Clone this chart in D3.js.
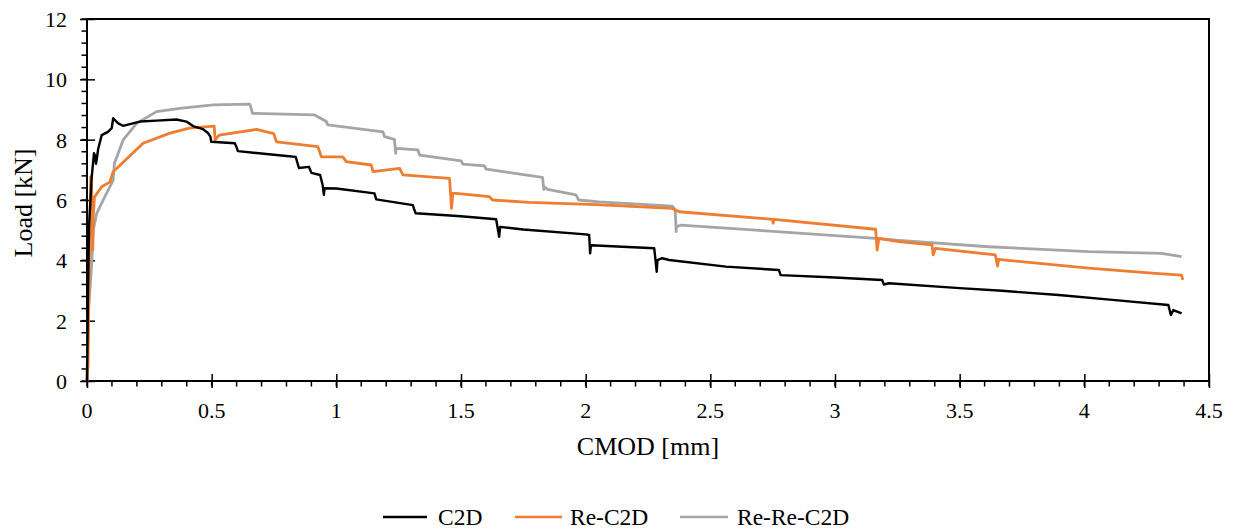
<!DOCTYPE html>
<html><head><meta charset="utf-8">
<script src="https://cdn.jsdelivr.net/npm/d3@7"></script>
<style>body{margin:0;background:#fff;} svg{display:block;}</style>
</head><body>
<svg id="c" width="1238" height="532"></svg>
<script>
const seriesNames = ["C2D", "Re-C2D", "Re-Re-C2D"];
const seriesColors = ["#000000", "#ED7D31", "#A5A5A5"];
const xTicks = [0, 0.5, 1, 1.5, 2, 2.5, 3, 3.5, 4, 4.5];
const yTicks = [0, 2, 4, 6, 8, 10, 12];

// C2D: [CMOD, Load]
const c2d = [
[0,0],[0.004,3.0],[0.008,5.1],[0.019,6.77],[0.028,7.55],[0.033,7.45],[0.036,7.2],[0.039,7.35],[0.045,7.7],[0.059,8.15],[0.084,8.26],[0.099,8.38],[0.105,8.71],[0.124,8.55],[0.144,8.46],
[0.212,8.6],[0.279,8.63],[0.359,8.67],[0.399,8.6],[0.425,8.45],[0.465,8.35],[0.485,8.22],[0.495,8.1],[0.498,7.93],[0.593,7.88],[0.6,7.75],[0.605,7.62],
[0.8,7.46],[0.837,7.43],[0.85,7.06],[0.89,7.1],[0.9,6.9],[0.935,6.83],[0.945,6.5],[0.95,6.17],[0.953,6.39],[1.0,6.38],[1.153,6.22],[1.16,6.02],
[1.307,5.83],[1.312,5.7],[1.318,5.56],[1.5,5.46],[1.641,5.36],[1.653,4.78],[1.657,5.11],[1.75,5.02],[2.0,4.86],[2.014,4.84],[2.018,4.23],[2.021,4.5],
[2.275,4.4],[2.285,3.62],[2.288,4.01],[2.307,4.07],[2.335,4.01],[2.562,3.79],[2.775,3.68],[2.782,3.51],[3.0,3.43],[3.189,3.35],[3.196,3.2],
[3.216,3.24],[3.5,3.08],[3.67,2.99],[3.897,2.85],[4.124,2.68],[4.337,2.52],[4.347,2.19],[4.357,2.35],[4.39,2.24]
];
// Re-C2D
const reC2d = [
[0,0],[0.004,0.5],[0.01,4.5],[0.015,6.77],[0.019,6.3],[0.023,4.34],[0.025,5.5],[0.03,6.1],[0.059,6.44],[0.092,6.6],[0.105,6.94],[0.225,7.88],[0.33,8.21],
[0.41,8.38],[0.51,8.45],[0.514,7.99],[0.53,8.15],[0.68,8.34],[0.72,8.26],[0.749,8.2],[0.76,7.93],[0.926,7.77],[0.94,7.43],[1.026,7.43],[1.04,7.27],[1.14,7.16],[1.147,6.94],
[1.254,7.05],[1.267,6.83],[1.454,6.72],[1.462,5.72],[1.467,6.22],[1.48,6.22],[1.614,6.11],[1.627,6.0],[1.774,5.92],[2.041,5.85],
[2.348,5.72],[2.375,5.61],[2.749,5.36],[2.752,5.23],[2.755,5.36],[3.163,5.03],[3.169,4.34],[3.176,4.73],[3.256,4.62],
[3.389,4.51],[3.394,4.18],[3.403,4.4],[3.643,4.18],[3.652,3.81],[3.656,4.03],[4.017,3.74],[4.284,3.57],[4.39,3.51],[4.395,3.35]
];
// Re-Re-C2D
const reReC2d = [
[0,0],[0.005,2.24],[0.019,3.9],[0.025,5.0],[0.039,5.56],[0.065,6.0],[0.105,6.66],[0.11,7.22],[0.145,7.99],[0.199,8.54],[0.279,8.93],[0.372,9.04],
[0.506,9.15],[0.653,9.18],[0.664,8.87],[0.913,8.82],[0.96,8.6],[0.966,8.49],[1.187,8.26],[1.193,8.1],[1.233,8.01],[1.238,7.55],[1.24,7.71],[1.327,7.66],[1.334,7.49],
[1.501,7.3],[1.507,7.19],[1.594,7.13],[1.601,7.02],[1.827,6.75],[1.832,6.35],[1.834,6.44],[1.847,6.35],[1.961,6.17],[1.972,6.0],[2.054,5.94],
[2.348,5.8],[2.359,5.67],[2.363,4.95],[2.364,5.11],[2.382,5.17],[2.682,5.0],[3.163,4.73],[3.256,4.66],[3.616,4.45],[4.017,4.29],[4.31,4.23],[4.39,4.12]
];
const seriesData = [c2d, reC2d, reReC2d];

const FONT = '"Liberation Serif", "Times New Roman", serif';
const svg = d3.select("#c");
const L = 87, R = 1209, T = 19, B = 381;
const x = d3.scaleLinear().domain([0, 4.5]).range([L, R]);
const y = d3.scaleLinear().domain([0, 12]).range([B, T]);

// minor ticks
const xMinor = d3.range(0, 4.5001, 0.1).map(v => +v.toFixed(2));
const yMinor = d3.range(0, 12.001, 0.4).map(v => +v.toFixed(2));
svg.append("g").selectAll("line").data(xMinor).join("line")
  .attr("x1", d => x(d)).attr("x2", d => x(d)).attr("y1", B).attr("y2", B + 5.5)
  .attr("stroke", "#000").attr("stroke-width", 1.5);
svg.append("g").selectAll("line").data(yMinor).join("line")
  .attr("x1", L - 5.5).attr("x2", L).attr("y1", d => y(d)).attr("y2", d => y(d))
  .attr("stroke", "#000").attr("stroke-width", 1.5);

// axes (tick marks from d3 axes, labels drawn as plain text)
const gx = svg.append("g").attr("transform", `translate(0,${B})`)
  .call(d3.axisBottom(x).tickValues(xTicks).tickSize(7).tickFormat(""));
gx.select(".domain").remove();
gx.selectAll(".tick line").attr("y1", -7).attr("y2", 7).attr("stroke-width", 1.5);
gx.selectAll(".tick text").remove();

const gy = svg.append("g").attr("transform", `translate(${L},0)`)
  .call(d3.axisLeft(y).tickValues(yTicks).tickSize(7).tickFormat(""));
gy.select(".domain").remove();
gy.selectAll(".tick line").attr("x1", -7).attr("x2", 8).attr("stroke-width", 1.5);
gy.selectAll(".tick text").remove();

const fmt = d3.format("~g");
svg.append("g").selectAll("text").data(xTicks).join("text")
  .attr("x", d => x(d)).attr("y", B + 37).attr("text-anchor", "middle")
  .style("font-family", FONT).style("font-size", "22px").text(d => fmt(d));
svg.append("g").selectAll("text").data(yTicks).join("text")
  .attr("x", L - 20).attr("y", d => y(d) + 8).attr("text-anchor", "end")
  .style("font-family", FONT).style("font-size", "22px").text(d => fmt(d));

// frame
svg.append("rect").attr("x", L).attr("y", T).attr("width", R - L).attr("height", B - T)
  .attr("fill", "none").attr("stroke", "#000").attr("stroke-width", 2);

// lines
const line = d3.line().x(d => x(d[0])).y(d => y(d[1]));
const widths = [2.4, 2.8, 2.8];
[2, 1, 0].forEach(i => {
  svg.append("path").datum(seriesData[i]).attr("d", line)
    .attr("fill", "none").attr("stroke", seriesColors[i]).attr("stroke-width", widths[i])
    .attr("stroke-linejoin", "round");
});

// titles
svg.append("text").attr("x", (L + R) / 2).attr("y", 455).attr("text-anchor", "middle")
  .style("font-family", FONT).style("font-size", "26px").text("CMOD [mm]");
svg.append("text").attr("transform", `translate(32,203) rotate(-90)`).attr("text-anchor", "middle")
  .style("font-family", FONT).style("font-size", "26px").text("Load [kN]");

// legend
const legLine = [[383, 427], [515, 562], [680, 728]];
const legText = [438, 570, 737];
const lg = svg.append("g");
seriesNames.forEach((n, i) => {
  lg.append("line").attr("x1", legLine[i][0]).attr("x2", legLine[i][1]).attr("y1", 517).attr("y2", 517)
    .attr("stroke", seriesColors[i]).attr("stroke-width", 2.4);
  lg.append("text").attr("x", legText[i]).attr("y", 525)
    .style("font-family", FONT).style("font-size", "23.5px").text(n);
});
</script>
</body></html>
